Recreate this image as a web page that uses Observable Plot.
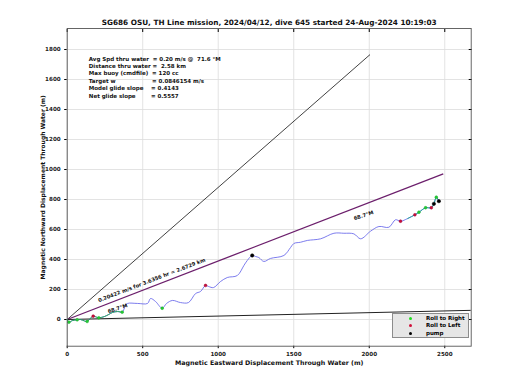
<!DOCTYPE html>
<html>
<head>
<meta charset="utf-8">
<script src="https://cdn.jsdelivr.net/npm/d3@7"></script>
<script src="https://cdn.jsdelivr.net/npm/@observablehq/plot@0.6"></script>
<style>
  html, body { margin: 0; padding: 0; background: #fff; }
  #wrap { position: relative; width: 520px; height: 390px; font-family: "DejaVu Sans", sans-serif; }
  #legend { position: absolute; left: 392px; top: 313px; width: 75px; height: 23px;
            background: #e6e6e6; border: 1px solid #8c8c8c; font-size: 5.5px; font-weight: bold; }
  .row { position: absolute; left: 0; height: 7px; line-height: 7px; }
  .dot { position: absolute; left: 16px; top: 2px; width: 3px; height: 3px; border-radius: 50%; }
  .lab { position: absolute; left: 33px; white-space: nowrap; }
</style>
</head>
<body>
<div id="wrap"></div>
<script>
const title = "SG686 OSU, TH Line mission, 2024/04/12, dive 645 started 24-Aug-2024 10:19:03";
const xLabel = "Magnetic Eastward Displacement Through Water (m)";
const yLabel = "Magnetic Northward Displacement Through Water (m)";
const xTicks = [0, 500, 1000, 1500, 2000, 2500];
const yTicks = [0, 200, 400, 600, 800, 1000, 1200, 1400, 1600, 1800];
const xDomain = [0, 2675];
const yDomain = [-178, 1940];

const infoLines = [
  "Avg Spd thru water  = 0.20 m/s @  71.6 °M",
  "Distance thru water =  2.58 km",
  "Max buoy (cmdfile)  = 120 cc",
  "Target w                   = 0.0846154 m/s",
  "Model glide slope    = 0.4143",
  "Net glide slope        = 0.5557"
];

// straight reference lines from origin: end points
const refName = ["heading", "drift", "current"];
const refEndX = [2005, 2490, 2672];
const refEndY = [1766, 971, 61];

// glider track through water
const trackX = [0, 11, 35, 66, 88, 115, 132, 154, 172, 201, 209, 247, 274, 300, 333, 364, 386, 399, 466, 532, 552, 585, 629, 658, 697, 750, 803, 850, 883, 916, 936, 969, 1015, 1060, 1126, 1170, 1192, 1225, 1247, 1269, 1302, 1346, 1435, 1479, 1501, 1545, 1590, 1678, 1766, 1832, 1898, 1943, 2009, 2064, 2130, 2174, 2207, 2254, 2302, 2329, 2373, 2411, 2428, 2444, 2461];
const trackY = [0, -18, -7, -2, 0, -10, -13, 8, 22, 13, 11, 20, 33, 47, 53, 49, 93, 107, 107, 107, 140, 120, 75, 107, 127, 113, 113, 173, 187, 227, 220, 213, 253, 280, 293, 360, 393, 427, 420, 413, 387, 407, 427, 480, 507, 515, 527, 538, 575, 575, 571, 538, 589, 620, 615, 665, 655, 673, 698, 715, 745, 745, 771, 815, 789];

const rollRightX = [11, 66, 132, 209, 364, 629, 2329, 2373, 2444];
const rollRightY = [-18, -2, -13, 11, 49, 75, 715, 745, 815];
const rollLeftX = [172, 916, 2207, 2302, 2411];
const rollLeftY = [22, 227, 655, 698, 745];
const pumpX = [1225, 2428, 2461];
const pumpY = [427, 771, 789];

const lineLabels = ["0.20422 m/s for 3.6356 hr = 2.6729 km", "68.7°M", "68.7°M"];
const lineLabelX = [560, 334, 1963];
const lineLabelY = [262, 73, 693];
const lineLabelAngle = [-21, -18, -18];

const legendNames = ["Roll to Right", "Roll to Left", "pump"];
const legendColors = ["#22dd22", "#d0103a", "#000000"];

const track = trackX.map((x, i) => ({x, y: trackY[i], i}));
const refs = refName.map((n, i) => ({n, x1: 0, y1: 0, x2: refEndX[i], y2: refEndY[i]}));
const mk = (xs, ys) => xs.map((x, i) => ({x, y: ys[i]}));
const labels = lineLabels.map((t, i) => ({t, x: lineLabelX[i], y: lineLabelY[i], a: lineLabelAngle[i]}));

const F = "DejaVu Sans";
const fmt = d3.format("d");
const chart = Plot.plot({
  width: 520, height: 390,
  marginLeft: 66.7, marginRight: 49.3, marginTop: 28, marginBottom: 44.3,
  style: {fontFamily: F, fontSize: "6px", fontWeight: "bold", background: "#fff", overflow: "visible"},
  x: {domain: xDomain},
  y: {domain: yDomain},
  marks: [
    Plot.gridX(xTicks, {stroke: "#dcdcdc", strokeOpacity: 1, strokeWidth: 0.8}),
    Plot.gridY(yTicks, {stroke: "#dcdcdc", strokeOpacity: 1, strokeWidth: 0.8}),
    Plot.axisX({ticks: xTicks, tickSize: 2.5, tickPadding: 3, tickFormat: fmt, label: null, fontSize: 5.6, fontWeight: "bold", fill: "#222"}),
    Plot.axisY({ticks: yTicks, tickSize: 2.5, tickPadding: 4, tickFormat: fmt, label: null, fontSize: 5.6, fontWeight: "bold", fill: "#222"}),
    Plot.axisX({anchor: "top", ticks: xTicks, tickSize: -3, tickFormat: () => "", label: null}),
    Plot.axisY({anchor: "right", ticks: yTicks, tickSize: -3, tickFormat: () => "", label: null}),
    Plot.link(refs.slice(0, 1), {x1: "x1", y1: "y1", x2: "x2", y2: "y2", stroke: "#111", strokeWidth: 0.8}),
    Plot.link(refs.slice(1, 2), {x1: "x1", y1: "y1", x2: "x2", y2: "y2", stroke: "#6c1f6c", strokeWidth: 1.3}),
    Plot.link(refs.slice(2, 3), {x1: "x1", y1: "y1", x2: "x2", y2: "y2", stroke: "#222", strokeWidth: 1}),
    Plot.line(track, {x: "x", y: "y", stroke: "#5c5ce8", strokeWidth: 0.8, curve: "catmull-rom"}),
    Plot.line(track.filter(d => d.i <= 15), {x: "x", y: "y", stroke: "#1fa84a", strokeWidth: 0.9, curve: "catmull-rom"}),
    Plot.line(track.filter(d => d.i >= 57), {x: "x", y: "y", stroke: "#1aa890", strokeWidth: 0.9, curve: "catmull-rom"}),
    Plot.dot(mk(rollRightX, rollRightY), {x: "x", y: "y", r: 1.4, fill: "#22cc33", stroke: "#22aa33", strokeWidth: 0.5}),
    Plot.dot(mk(rollLeftX, rollLeftY), {x: "x", y: "y", r: 1.4, fill: "#c8103a", stroke: "#a00030", strokeWidth: 0.5}),
    Plot.dot(mk(pumpX, pumpY), {x: "x", y: "y", r: 1.7, fill: "#000", stroke: "#000", strokeWidth: 0.5}),
    Plot.text(labels, {x: "x", y: "y", text: "t", rotate: "a", fontSize: 5.2, fontWeight: "bold", fill: "#111"}),
    Plot.text([infoLines.join("\n")], {frameAnchor: "top-left", dx: 21.6, dy: 27, lineAnchor: "top", textAnchor: "start", lineHeight: 1.34, fontSize: 5.5, fontWeight: "bold", fill: "#111"}),
    Plot.text([title], {frameAnchor: "top", dy: -4, lineAnchor: "bottom", fontSize: 7.3, fontWeight: "bold", fill: "#111"}),
    Plot.text([xLabel], {frameAnchor: "bottom", dy: 16.6, lineAnchor: "middle", fontSize: 6.3, fontWeight: "bold", fill: "#111"}),
    Plot.text([yLabel], {frameAnchor: "left", dx: -24, rotate: -90, textAnchor: "middle", lineAnchor: "middle", fontSize: 6.0, fontWeight: "bold", fill: "#111"}),
    Plot.frame({stroke: "#555", strokeWidth: 0.9})
  ]
});
const wrap = document.getElementById("wrap");
wrap.appendChild(chart);

const leg = document.createElement("div");
leg.id = "legend";
legendNames.forEach((n, i) => {
  const row = document.createElement("div");
  row.className = "row";
  row.style.top = (1 + i * 7.3) + "px";
  row.style.width = "75px";
  const dot = document.createElement("div");
  dot.className = "dot";
  dot.style.background = legendColors[i];
  const lab = document.createElement("div");
  lab.className = "lab";
  lab.textContent = n;
  row.appendChild(dot); row.appendChild(lab);
  leg.appendChild(row);
});
wrap.appendChild(leg);
</script>
</body>
</html>
